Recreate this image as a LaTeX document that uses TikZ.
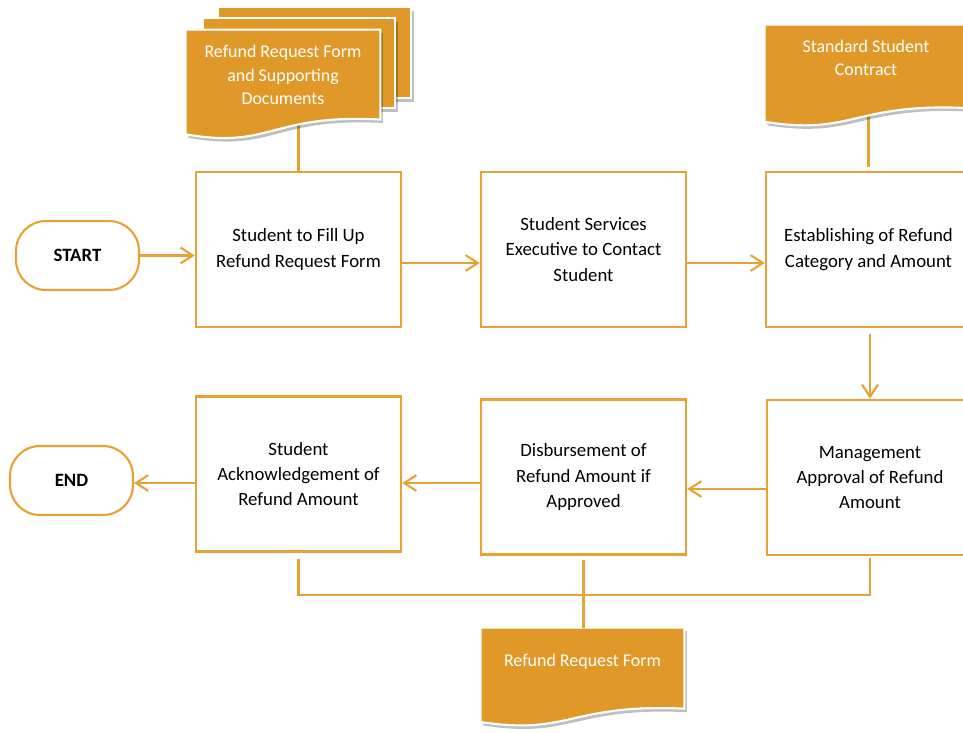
\documentclass[tikz,border=0pt]{standalone}
\usepackage{fontspec}
\setmainfont{Carlito}
\usetikzlibrary{arrows.meta,calc,backgrounds,shadows}
\definecolor{flow}{RGB}{231,162,52}
\definecolor{docfill}{RGB}{224,153,40}
% document shape with a wavy bottom below node #1, full height #2 (px)
\newcommand\docwave[2]{%
  \filldraw[docshape] (#1.north west) -- (#1.north east) -- ($(#1.north east)+(0,0.802*#2)$)
    .. controls ($(#1.north west)!0.4375!(#1.north east)+(0,0.75*#2)$)
    and ($(#1.north west)!0.4375!(#1.north east)+(0,1.07*#2)$)
    .. ($(#1.north west)+(0,0.934*#2)$) -- cycle;}
\begin{document}
\begin{tikzpicture}[x=0.02cm,y=-0.02cm,
  >={Straight Barb[length=7pt,width=9pt]},
  process/.style={rectangle, draw=flow, line width=1.4pt, minimum width=4.1cm,
    minimum height=3.1cm, align=center, font=\fontsize{10.7}{14.4}\selectfont},
  terminal/.style={rectangle, rounded corners=0.6cm, draw=flow, line width=1.2pt,
    minimum width=2.46cm, minimum height=1.38cm, font=\fontsize{10.7}{13}\selectfont\bfseries},
  docnode/.style={rectangle, text=white, align=center, font=\fontsize{10.2}{13.4}\selectfont},
  docshape/.style={fill=docfill, draw=white, line width=1.2pt,
    drop shadow={shadow xshift=1.5pt, shadow yshift=-2pt, opacity=0.25, fill=black}},
  link/.style={draw=flow, line width=1.2pt},
  every edge/.style={link}]

\useasboundingbox (0,0) rectangle (963,733);

% terminals and steps
\node [terminal] (start) at (77.5,255.5) {START};
\node [process] (fill) at (298.5,249.5) {Student to Fill Up\\Refund Request Form};
\node [process] (contact) at (583.5,249.5) {Student Services\\Executive to Contact\\Student};
\node [process] (category) at (868.5,249.5) {Establishing of Refund\\Category and Amount};
\node [process, minimum width=4.12cm] (approval) at (870,477.5) {Management\\Approval of Refund\\Amount};
\node [process] (disburse) at (583.5,477) {Disbursement of\\Refund Amount if\\Approved};
\node [process] (acknowledge) at (298.5,474) {Student\\Acknowledgement of\\Refund Amount};
\node [terminal] (finish) at (71.5,480.5) {END};

% documents
\node [docnode, minimum width=3.88cm, minimum height=1.8cm] (formdocs) at (283,75) {Refund Request Form\\and Supporting\\Documents};
\node [docnode, minimum width=4.04cm, minimum height=1.32cm] (contract) at (866,58) {Standard Student\\Contract};
\node [docnode, minimum width=4.06cm, minimum height=1.36cm] (form) at (582.5,662) {Refund Request Form};

\begin{scope}[on background layer]
  \draw[link] (fill.north) -- (fill.north |- formdocs.south);
  \draw[link, shorten <=0.08cm] (category.north) -- (category.north |- contract.south);
  \filldraw[docshape] (218,7) rectangle (411,98);
  \filldraw[docshape] (203,18) rectangle (395,108);
  \docwave{formdocs}{112}
  \docwave{contract}{104}
  \docwave{form}{101}
\end{scope}

% flow
\path[->] (start) edge (start -| fill.west);
\path[->] ([yshift=-0.27cm]fill.east) edge ([yshift=-0.27cm]fill.east -| contact.west);
\path[->] ([yshift=-0.27cm]contact.east) edge ([yshift=-0.27cm]contact.east -| category.west);
\path[->] (category.south -| approval.north) edge [shorten <=0.12cm] (approval.north);
\path[->] ([yshift=-0.23cm]approval.west) edge ([yshift=-0.23cm]approval.west -| disburse.east);
\path[->] ([yshift=-0.12cm]disburse.west) edge ([yshift=-0.12cm]disburse.west -| acknowledge.east);
\path[->] ([yshift=-0.18cm]acknowledge.west) edge ([yshift=-0.18cm]acknowledge.west -| finish.east);

% records
\draw[link, shorten <=0.12cm, shorten >=0.04cm] (acknowledge.south) -- ++(0,42) -| (approval.south);
\draw[link, shorten <=0.08cm] (disburse.south) -- (disburse.south |- form.north);
\end{tikzpicture}
\end{document}
